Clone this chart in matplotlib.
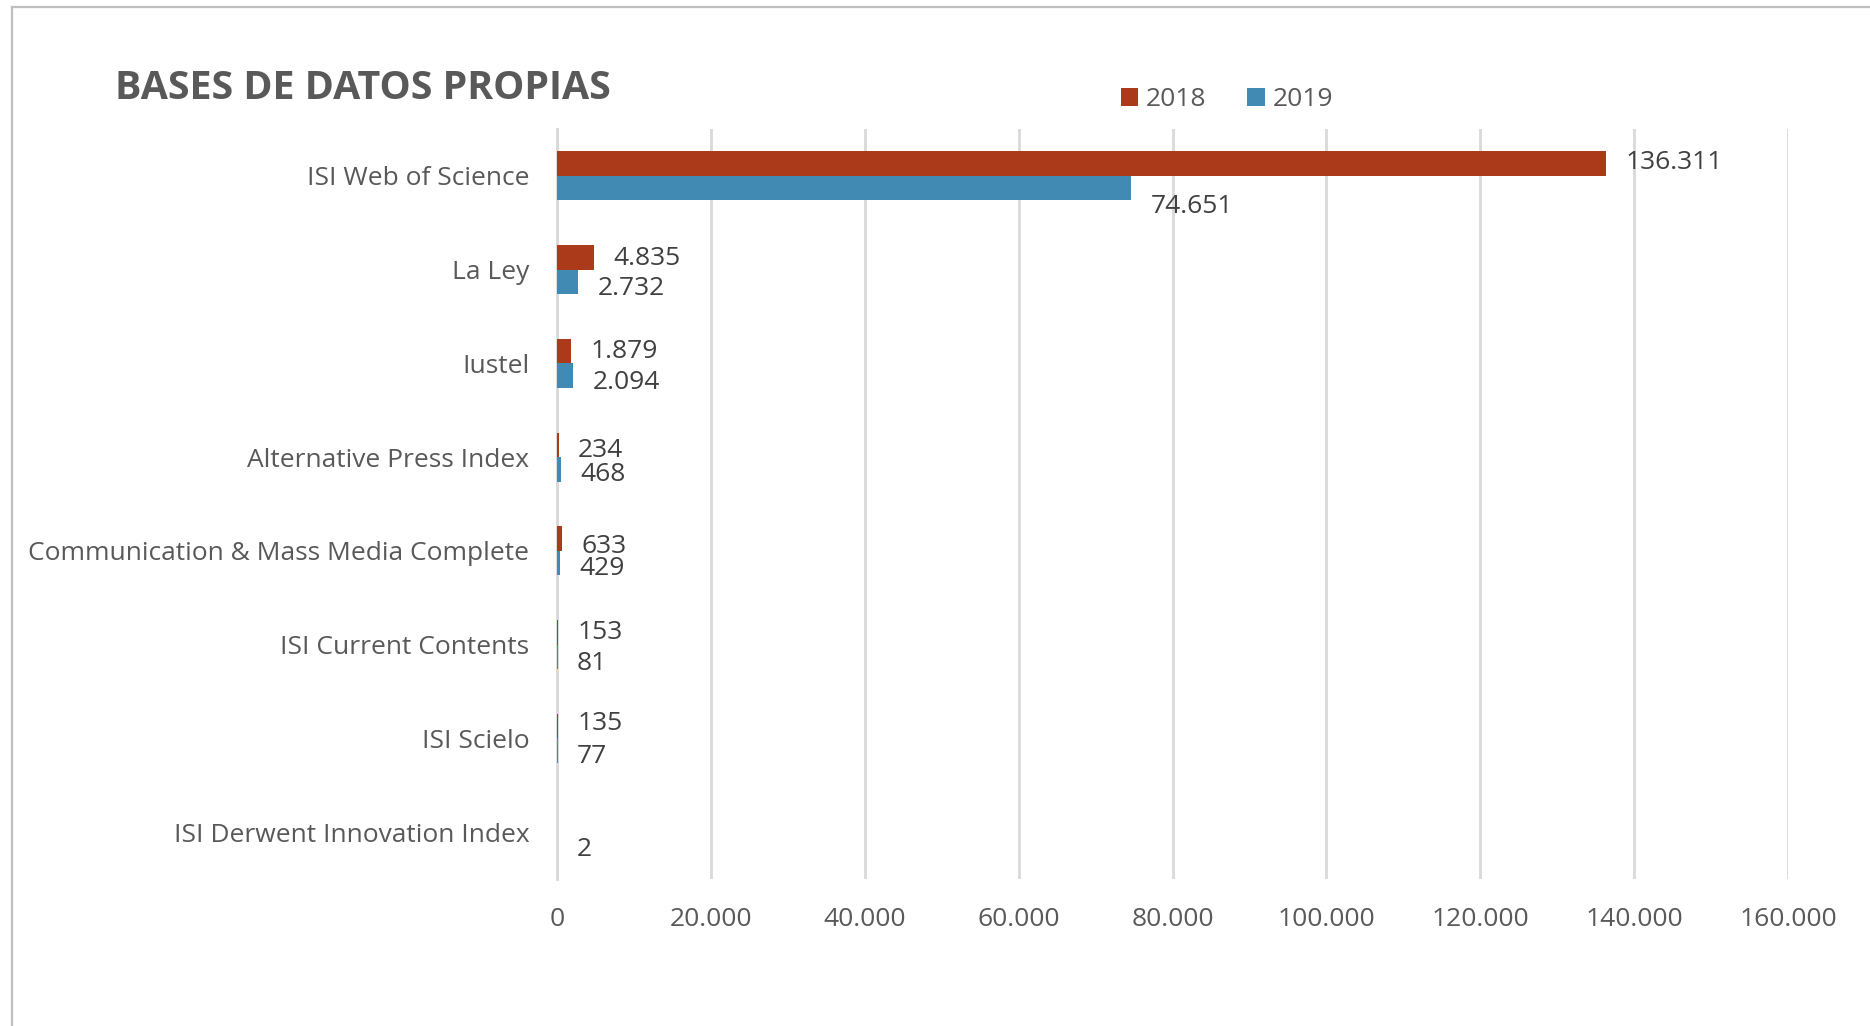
import matplotlib
matplotlib.use("Agg")
import matplotlib.pyplot as plt
from matplotlib.patches import Patch
from matplotlib.lines import Line2D
import numpy as np

# ---- data ----
categories = ["ISI Web of Science", "La Ley", "Iustel", "Alternative Press Index",
              "Communication & Mass Media Complete", "ISI Current Contents",
              "ISI Scielo", "ISI Derwent Innovation Index"]
values_2018 = [136311, 4835, 1879, 234, 633, 153, 135, None]
values_2019 = [74651, 2732, 2094, 468, 429, 81, 77, 2]
series_names = ["2018", "2019"]
xticks = [0, 20000, 40000, 60000, 80000, 100000, 120000, 140000, 160000]
title = "BASES DE DATOS PROPIAS"

# ---- style ----
C18 = "#AA3A1A"
C19 = "#418AB4"
GRID = "#D9D9D9"
TXT = "#595959"
LBL = "#404040"
FONT = "Open Sans"
FS = 19

# vertical nudges (points) for data labels, to mimic placement in original
dy18 = [1, -1, 0, -4, -6, 0, 2, 0]
dy19 = [-13, -5, -5, -4, -4, -5, -4, -4]

W, H = 1870, 1026
fig = plt.figure(figsize=(W / 100, H / 100), dpi=100)
fig.patch.set_facecolor("white")

ax = fig.add_axes([557 / W, 1 - 879 / H, (1788 - 557) / W, (879 - 129) / H])

y = np.arange(len(categories))
bh = 0.262
v18 = np.array([np.nan if v is None else v for v in values_2018], dtype=float)
v19 = np.array([np.nan if v is None else v for v in values_2019], dtype=float)

ax.barh(y - bh / 2, np.nan_to_num(v18), height=bh, color=C18, zorder=3)
ax.barh(y + bh / 2, np.nan_to_num(v19), height=bh, color=C19, zorder=3)

def fmt(v):
    return f"{int(v):,}".replace(",", ".")

for i in range(len(categories)):
    if not np.isnan(v18[i]):
        ax.annotate(fmt(v18[i]), (v18[i], y[i] - bh / 2), xytext=(14, dy18[i]),
                    textcoords="offset points", va="center", ha="left",
                    fontsize=FS, color=LBL, family=FONT)
    if not np.isnan(v19[i]):
        ax.annotate(fmt(v19[i]), (v19[i], y[i] + bh / 2), xytext=(14, dy19[i]),
                    textcoords="offset points", va="center", ha="left",
                    fontsize=FS, color=LBL, family=FONT)

ax.set_xlim(0, 160000)
ax.set_ylim(len(categories) - 0.5, -0.5)
ax.set_xticks(xticks)
ax.set_xticklabels([fmt(t) for t in xticks], family=FONT, fontsize=FS, color=TXT)
ax.set_yticks(y)
ax.set_yticklabels(categories, family=FONT, fontsize=FS, color=TXT)
ax.tick_params(axis="x", length=0, pad=20)
ax.tick_params(axis="y", length=0, pad=20)
ax.grid(axis="x", color=GRID, linewidth=2, zorder=0)
ax.set_axisbelow(True)
for s in ["top", "right", "bottom"]:
    ax.spines[s].set_visible(False)
ax.spines["left"].set_color(GRID)
ax.spines["left"].set_linewidth(2)
ax.spines["left"].set_zorder(1)

# title
fig.text(115 / W, 1 - 99 / H, title, family=FONT, fontweight="bold",
         fontsize=28.4, color=TXT, va="baseline", ha="left")

# legend
handles = [Patch(facecolor=C18, edgecolor="none"), Patch(facecolor=C19, edgecolor="none")]
fig.legend(handles, series_names, loc="center", bbox_to_anchor=(1227 / W, 1 - 100 / H),
           ncol=2, frameon=False, prop={"family": FONT, "size": FS},
           labelcolor=TXT, handlelength=0.65, handleheight=0.65,
           handletextpad=0.3, columnspacing=1.55, borderpad=0, borderaxespad=0)

# chart border
fig.add_artist(Line2D([12 / W, 1.0], [1 - 7 / H, 1 - 7 / H], transform=fig.transFigure,
                      color="#BFBFBF", linewidth=1.6))
fig.add_artist(Line2D([12 / W, 12 / W], [1 - 7 / H, 0.0], transform=fig.transFigure,
                      color="#BFBFBF", linewidth=1.6))

fig.savefig("out.png", dpi=100, facecolor="white")
